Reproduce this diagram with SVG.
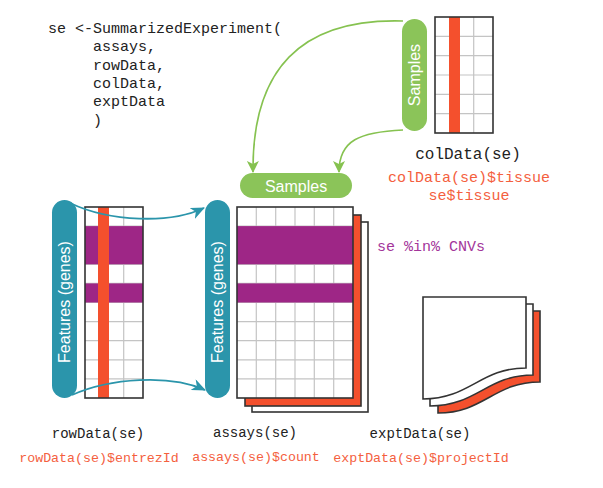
<svg xmlns="http://www.w3.org/2000/svg" width="603" height="488" viewBox="0 0 603 488">
<defs>
<style>
.code{font-family:"Liberation Mono","DejaVu Sans Mono",monospace;font-size:15px;fill:#222}
.lbl{font-family:"Liberation Mono","DejaVu Sans Mono",monospace;font-size:14px;fill:#222;text-anchor:middle}
.red{font-family:"Liberation Mono","DejaVu Sans Mono",monospace;font-size:13.3px;fill:#f4603e;text-anchor:middle}
.pill{font-family:"Liberation Sans",Arial,sans-serif;font-size:16px;fill:#fff;text-anchor:middle;dominant-baseline:central}
.grid{stroke:#c4c4c4;stroke-width:1.2}
.frame{fill:none;stroke:#333;stroke-width:1.6}
.teal{fill:#2b95ab}
.green{fill:#8bc459}
.purple{fill:#9e2686}
.redf{fill:#f4502d}
.gconn{fill:none;stroke:#86c250;stroke-width:1.6}
.tconn{fill:none;stroke:#2b95ab;stroke-width:1.8}
</style>
<marker id="ga" viewBox="0 0 12 12" refX="11" refY="6" markerWidth="12" markerHeight="12" markerUnits="userSpaceOnUse" orient="auto">
<path d="M0,0 L12,6 L0,12 L3,6 z" fill="#86c250"/>
</marker>
<marker id="ta" viewBox="0 0 14 12" refX="13" refY="6" markerWidth="14" markerHeight="12" markerUnits="userSpaceOnUse" orient="auto">
<path d="M0,0 L14,6 L0,12 L4,6 z" fill="#2b95ab"/>
</marker>
</defs>

<g id="code">
<text class="code" x="48" y="33">se &lt;-SummarizedExperiment(</text>
<text class="code" x="93" y="51">assays,</text>
<text class="code" x="93" y="70">rowData,</text>
<text class="code" x="93" y="88">colData,</text>
<text class="code" x="93" y="106">exptData</text>
<text class="code" x="93" y="125">)</text>
</g>

<g id="colData">
<rect x="402" y="19" width="25" height="112" rx="12.5" class="green"/>
<text class="pill" transform="translate(414.5,75) rotate(-90)">Samples</text>
<rect x="435" y="17" width="58" height="116" fill="#fff"/>
<g class="grid">
<line x1="454.3" y1="17" x2="454.3" y2="133"/>
<line x1="473.7" y1="17" x2="473.7" y2="133"/>
<line x1="435" y1="36.3" x2="493" y2="36.3"/>
<line x1="435" y1="55.7" x2="493" y2="55.7"/>
<line x1="435" y1="75" x2="493" y2="75"/>
<line x1="435" y1="94.3" x2="493" y2="94.3"/>
<line x1="435" y1="113.7" x2="493" y2="113.7"/>
</g>
<rect x="449" y="17" width="11" height="116" class="redf"/>
<rect x="435" y="17" width="58" height="116" class="frame"/>
<text class="lbl" x="468" y="159" style="font-size:16px">colData(se)</text>
<text class="red" x="469" y="182" style="font-size:15px">colData(se)$tissue</text>
<text class="red" x="469" y="200" style="font-size:15px">se$tissue</text>
</g>

<g id="samples">
<rect x="240" y="173" width="112" height="25" rx="12.5" class="green"/>
<text class="pill" x="296" y="186">Samples</text>
</g>

<g id="rowData">
<rect x="52" y="200" width="25" height="198" rx="12.5" class="teal"/>
<text class="pill" transform="translate(64.5,302) rotate(-90)">Features (genes)</text>
<rect x="85" y="207" width="58" height="191" fill="#fff"/>
<g class="grid">
<line x1="104.3" y1="207" x2="104.3" y2="398"/>
<line x1="123.7" y1="207" x2="123.7" y2="398"/>
<line x1="85" y1="226.1" x2="143" y2="226.1"/>
<line x1="85" y1="245.2" x2="143" y2="245.2"/>
<line x1="85" y1="264.3" x2="143" y2="264.3"/>
<line x1="85" y1="283.4" x2="143" y2="283.4"/>
<line x1="85" y1="302.5" x2="143" y2="302.5"/>
<line x1="85" y1="321.6" x2="143" y2="321.6"/>
<line x1="85" y1="340.7" x2="143" y2="340.7"/>
<line x1="85" y1="359.8" x2="143" y2="359.8"/>
<line x1="85" y1="378.9" x2="143" y2="378.9"/>
</g>
<rect x="85" y="226.1" width="58" height="38.2" class="purple"/>
<rect x="85" y="283.4" width="58" height="19.1" class="purple"/>
<rect x="98" y="207" width="11" height="191" class="redf"/>
<rect x="85" y="207" width="58" height="191" class="frame"/>
<text class="lbl" x="98" y="438">rowData(se)</text>
<text class="red" x="99" y="462">rowData(se)$entrezId</text>
</g>

<g id="assays">
<rect x="205" y="200" width="25" height="198" rx="12.5" class="teal"/>
<text class="pill" transform="translate(217.5,302) rotate(-90)">Features (genes)</text>
<rect x="252" y="222" width="116" height="190" fill="#fff" stroke="#333" stroke-width="1.6"/>
<rect x="245" y="215" width="116" height="191" fill="#f4502d" stroke="#333" stroke-width="1.6"/>
<rect x="237" y="207" width="116" height="191" fill="#fff"/>
<g class="grid">
<line x1="256.3" y1="207" x2="256.3" y2="398"/>
<line x1="275.7" y1="207" x2="275.7" y2="398"/>
<line x1="295" y1="207" x2="295" y2="398"/>
<line x1="314.3" y1="207" x2="314.3" y2="398"/>
<line x1="333.7" y1="207" x2="333.7" y2="398"/>
<line x1="237" y1="226.1" x2="353" y2="226.1"/>
<line x1="237" y1="245.2" x2="353" y2="245.2"/>
<line x1="237" y1="264.3" x2="353" y2="264.3"/>
<line x1="237" y1="283.4" x2="353" y2="283.4"/>
<line x1="237" y1="302.5" x2="353" y2="302.5"/>
<line x1="237" y1="321.6" x2="353" y2="321.6"/>
<line x1="237" y1="340.7" x2="353" y2="340.7"/>
<line x1="237" y1="359.8" x2="353" y2="359.8"/>
<line x1="237" y1="378.9" x2="353" y2="378.9"/>
</g>
<rect x="237" y="226.1" width="116" height="38.2" class="purple"/>
<rect x="237" y="283.4" width="116" height="19.1" class="purple"/>
<rect x="237" y="207" width="116" height="191" class="frame"/>
<text x="377" y="251" style="font-family:'Liberation Mono','DejaVu Sans Mono',monospace;font-size:15px;fill:#a3359a">se %in% CNVs</text>
<text class="lbl" x="255" y="437">assays(se)</text>
<text class="red" x="256" y="461">assays(se)$count</text>
</g>

<g id="exptData">
<path d="M438,311 H540 V382 C494,382 484,413 438,413 Z" fill="#f4502d" stroke="#333" stroke-width="1.6"/>
<path d="M430,304 H533 V375 C487,375 477,406 430,406 Z" fill="#fff" stroke="#333" stroke-width="1.6"/>
<path d="M423,297 H526 V368 C480,368 470,399 423,399 Z" fill="#fff" stroke="#333" stroke-width="1.6"/>
<text class="lbl" x="420" y="438">exptData(se)</text>
<text class="red" x="421" y="462">exptData(se)$projectId</text>
</g>

<g id="connectors">
<path class="gconn" d="M403,21 C300,18 252,70 253,172" marker-end="url(#ga)"/>
<path class="gconn" d="M403,130 C360,132 339,140 339,172" marker-end="url(#ga)"/>
<path class="tconn" d="M70,203 C110,222 170,224 204,208" marker-end="url(#ta)"/>
<path class="tconn" d="M72,395 C110,378 170,374 205,390" marker-end="url(#ta)"/>
</g>
</svg>
